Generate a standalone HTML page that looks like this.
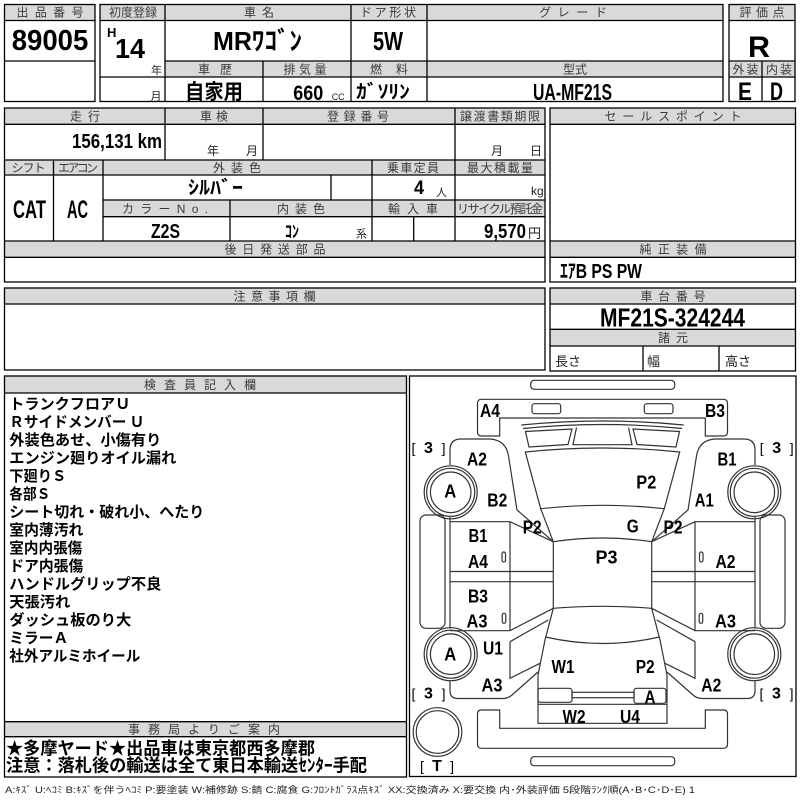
<!DOCTYPE html>
<html><head><meta charset="utf-8">
<style>
html,body{margin:0;padding:0;background:#fff;width:800px;height:800px;overflow:hidden;}
svg{display:block;}
.h{font-family:"Liberation Sans","Noto Sans CJK JP",sans-serif;font-size:12px;fill:#3a3a3a;text-anchor:middle;}
.b{font-family:"Liberation Sans","Noto Sans CJK JP",sans-serif;font-weight:bold;fill:#000;}
.t{font-family:"Liberation Sans","Noto Sans CJK JP",sans-serif;fill:#222;}
.j{font-family:"Noto Sans CJK JP",sans-serif;font-weight:bold;fill:#000;}
.g{fill:#d9d9d9;stroke:none;}
.ln line,.ln rect{stroke:#000;stroke-width:1.3;fill:none;}
.c{stroke:#333;stroke-width:1.2;fill:none;}
.cl{font-family:"Liberation Sans",sans-serif;font-weight:bold;font-size:18px;fill:#000;text-anchor:middle;}
.br{font-family:"Liberation Sans",sans-serif;font-size:14px;fill:#000;text-anchor:middle;}
</style></head>
<body>
<svg width="800" height="800" viewBox="0 0 800 800" xmlns="http://www.w3.org/2000/svg">
<!-- gray header fills -->
<rect class="g" x="4.5" y="4.5" width="90.5" height="16"/>
<rect class="g" x="100" y="4.5" width="623" height="16"/>
<rect class="g" x="165" y="61" width="558" height="16"/>
<rect class="g" x="729" y="4.5" width="66" height="16"/>
<rect class="g" x="729" y="61" width="66" height="16"/>
<rect class="g" x="4.5" y="108" width="540.5" height="16.3"/>
<rect class="g" x="4.5" y="160" width="540.5" height="15"/>
<rect class="g" x="103" y="200" width="442" height="16.7"/>
<rect class="g" x="4.5" y="241" width="540.5" height="16.3"/>
<rect class="g" x="550" y="108" width="245.5" height="16.3"/>
<rect class="g" x="550" y="241" width="245.5" height="16.3"/>
<rect class="g" x="4.5" y="288" width="540.5" height="16"/>
<rect class="g" x="550" y="288" width="245.5" height="16"/>
<rect class="g" x="550" y="329.3" width="245.5" height="16.7"/>
<rect class="g" x="4.5" y="376" width="402" height="17"/>
<rect class="g" x="4.5" y="721.7" width="402" height="15"/>

<g class="ln">
<!-- box1 -->
<rect x="4.5" y="4.5" width="90.5" height="97"/>
<line x1="4.5" y1="20.5" x2="95" y2="20.5"/>
<line x1="4.5" y1="61" x2="95" y2="61"/>
<!-- box2 -->
<rect x="100" y="4.5" width="623" height="97"/>
<line x1="100" y1="20.5" x2="723" y2="20.5"/>
<line x1="165" y1="61" x2="723" y2="61"/>
<line x1="100" y1="77" x2="723" y2="77"/>
<line x1="165" y1="4.5" x2="165" y2="101.5"/>
<line x1="263" y1="61" x2="263" y2="101.5"/>
<line x1="351" y1="4.5" x2="351" y2="101.5"/>
<line x1="427" y1="4.5" x2="427" y2="101.5"/>
<!-- box3 -->
<rect x="729" y="4.5" width="66" height="97"/>
<line x1="729" y1="20.5" x2="795" y2="20.5"/>
<line x1="729" y1="61" x2="795" y2="61"/>
<line x1="729" y1="77" x2="795" y2="77"/>
<line x1="762" y1="61" x2="762" y2="101.5"/>
<!-- section 2 left -->
<rect x="4.5" y="108" width="540.5" height="174"/>
<line x1="4.5" y1="124.3" x2="545" y2="124.3"/>
<line x1="4.5" y1="160" x2="545" y2="160"/>
<line x1="4.5" y1="175" x2="545" y2="175"/>
<line x1="103" y1="200" x2="545" y2="200"/>
<line x1="103" y1="216.7" x2="545" y2="216.7"/>
<line x1="4.5" y1="241" x2="545" y2="241"/>
<line x1="4.5" y1="257.3" x2="545" y2="257.3"/>
<line x1="165" y1="108" x2="165" y2="160"/>
<line x1="263" y1="108" x2="263" y2="160"/>
<line x1="455" y1="108" x2="455" y2="241"/>
<line x1="53.5" y1="160" x2="53.5" y2="241"/>
<line x1="103" y1="160" x2="103" y2="241"/>
<line x1="372" y1="160" x2="372" y2="241"/>
<line x1="331" y1="175" x2="331" y2="200"/>
<line x1="230" y1="200" x2="230" y2="241"/>
<line x1="413.7" y1="216.7" x2="413.7" y2="241"/>
<!-- section 2 right -->
<rect x="550" y="108" width="245.5" height="174"/>
<line x1="550" y1="124.3" x2="795.5" y2="124.3"/>
<line x1="550" y1="241" x2="795.5" y2="241"/>
<line x1="550" y1="257.3" x2="795.5" y2="257.3"/>
<!-- section 3 -->
<rect x="4.5" y="288" width="540.5" height="82"/>
<line x1="4.5" y1="304" x2="545" y2="304"/>
<rect x="550" y="288" width="245.5" height="83"/>
<line x1="550" y1="304" x2="795.5" y2="304"/>
<line x1="550" y1="329.3" x2="795.5" y2="329.3"/>
<line x1="550" y1="346" x2="795.5" y2="346"/>
<line x1="643" y1="346" x2="643" y2="371"/>
<line x1="719" y1="346" x2="719" y2="371"/>
<!-- section 4 -->
<rect x="4.5" y="376" width="402" height="401"/>
<line x1="4.5" y1="393" x2="406.5" y2="393"/>
<line x1="4.5" y1="721.7" x2="406.5" y2="721.7"/>
<line x1="4.5" y1="736.7" x2="406.5" y2="736.7"/>
<rect x="409.5" y="376" width="386.5" height="400.5"/>
</g>

<!-- headers -->
<text class="h" x="50" y="16.5" textLength="67" lengthAdjust="spacing">出品番号</text>
<text class="h" x="133" y="16.5" textLength="48" lengthAdjust="spacing">初度登録</text>
<text class="h" x="259" y="16.5" textLength="30" lengthAdjust="spacing">車名</text>
<text class="h" x="388" y="16.5" textLength="56" lengthAdjust="spacing">ドア形状</text>
<text class="h" x="573" y="16.5" textLength="68" lengthAdjust="spacing">グレード</text>
<text class="h" x="762" y="16.5" textLength="45" lengthAdjust="spacing">評価点</text>
<text class="h" x="215" y="73.3" textLength="34" lengthAdjust="spacing">車歴</text>
<text class="h" x="305" y="73.3" textLength="43" lengthAdjust="spacing">排気量</text>
<text class="h" x="389" y="73.3" textLength="38" lengthAdjust="spacing">燃料</text>
<text class="h" x="575" y="73.3" textLength="24" lengthAdjust="spacing">型式</text>
<text class="h" x="745.5" y="73.3" textLength="26" lengthAdjust="spacing">外装</text>
<text class="h" x="779" y="73.3" textLength="26" lengthAdjust="spacing">内装</text>
<text class="h" x="85" y="120.5" textLength="30" lengthAdjust="spacing">走行</text>
<text class="h" x="214" y="120.5" textLength="28" lengthAdjust="spacing">車検</text>
<text class="h" x="358" y="120.5" textLength="62" lengthAdjust="spacing">登録番号</text>
<text class="h" x="500" y="120.5" textLength="80" lengthAdjust="spacing">譲渡書類期限</text>
<text class="h" x="673" y="120.5" textLength="137" lengthAdjust="spacing">セールスポイント</text>
<text class="h" x="28.5" y="172" textLength="34" lengthAdjust="spacing">シフト</text>
<text class="h" x="78" y="172" textLength="40" lengthAdjust="spacing">エアコン</text>
<text class="h" x="237" y="172" textLength="48" lengthAdjust="spacing">外装色</text>
<text class="h" x="413" y="172" textLength="52" lengthAdjust="spacing">乗車定員</text>
<text class="h" x="500" y="172" textLength="66" lengthAdjust="spacing">最大積載量</text>
<text class="h" x="165" y="213" textLength="86" lengthAdjust="spacing">カラーNo.</text>
<text class="h" x="301" y="213" textLength="48" lengthAdjust="spacing">内装色</text>
<text class="h" x="413" y="213" textLength="50" lengthAdjust="spacing">輸入車</text>
<text class="h" x="500" y="213" textLength="86" lengthAdjust="spacing">リサイクル預託金</text>
<text class="h" x="275" y="253.5" textLength="101" lengthAdjust="spacing">後日発送部品</text>
<text class="h" x="673" y="253.5" textLength="67" lengthAdjust="spacing">純正装備</text>
<text class="h" x="274.5" y="300.5" textLength="82" lengthAdjust="spacing">注意事項欄</text>
<text class="h" x="673" y="300.5" textLength="65" lengthAdjust="spacing">車台番号</text>
<text class="h" x="673" y="342" textLength="30" lengthAdjust="spacing">諸元</text>
<text class="h" x="200" y="389" textLength="112" lengthAdjust="spacing">検査員記入欄</text>
<text class="h" x="204" y="733.5" textLength="152" lengthAdjust="spacing">事務局よりご案内</text>

<!-- values -->
<text class="b" x="11.7" y="50" font-size="29" textLength="76.6" lengthAdjust="spacingAndGlyphs">89005</text>
<text class="b" x="107" y="37" font-size="13">H</text>
<text class="b" x="115" y="58" font-size="28" textLength="30" lengthAdjust="spacingAndGlyphs">14</text>
<text class="t" x="151" y="74" font-size="11">年</text>
<text class="t" x="150.5" y="100" font-size="11">月</text>
<text class="b" x="213" y="50" font-size="26" textLength="89" lengthAdjust="spacingAndGlyphs">MRﾜｺﾞﾝ</text>
<text class="b" x="373" y="50" font-size="26" textLength="30" lengthAdjust="spacingAndGlyphs">5W</text>
<text class="b" x="748" y="57" font-size="30" textLength="22" lengthAdjust="spacingAndGlyphs">R</text>
<text class="j" x="185" y="99" font-size="21" textLength="58" lengthAdjust="spacingAndGlyphs">自家用</text>
<text class="b" x="293.3" y="100" font-size="21" textLength="30" lengthAdjust="spacingAndGlyphs">660</text>
<text class="t" x="331.7" y="100" font-size="9">CC</text>
<text class="b" x="356" y="98" font-size="19" textLength="54" lengthAdjust="spacingAndGlyphs">ｶﾞｿﾘﾝ</text>
<text class="b" x="533" y="100" font-size="23" textLength="79" lengthAdjust="spacingAndGlyphs">UA-MF21S</text>
<text class="b" x="738" y="100" font-size="25" textLength="14" lengthAdjust="spacingAndGlyphs">E</text>
<text class="b" x="770" y="100" font-size="25" textLength="13" lengthAdjust="spacingAndGlyphs">D</text>

<text class="b" x="72" y="148" font-size="20" textLength="90" lengthAdjust="spacingAndGlyphs">156,131 km</text>
<text class="t" x="207" y="155" font-size="12">年</text>
<text class="t" x="246" y="155" font-size="12">月</text>
<text class="t" x="491" y="155" font-size="12">月</text>
<text class="t" x="530" y="155" font-size="12">日</text>
<text class="b" x="13" y="218" font-size="25" textLength="33" lengthAdjust="spacingAndGlyphs">CAT</text>
<text class="b" x="67" y="218" font-size="25" textLength="21" lengthAdjust="spacingAndGlyphs">AC</text>
<text class="b" x="188" y="194" font-size="19" textLength="55" lengthAdjust="spacingAndGlyphs">ｼﾙﾊﾞｰ</text>
<text class="b" x="414" y="194" font-size="19" textLength="10" lengthAdjust="spacingAndGlyphs">4</text>
<text class="t" x="436" y="196" font-size="11">人</text>
<text class="t" x="531" y="195" font-size="12">kg</text>
<text class="b" x="151" y="238" font-size="20" textLength="29" lengthAdjust="spacingAndGlyphs">Z2S</text>
<text class="b" x="285" y="237.5" font-size="17" textLength="14" lengthAdjust="spacingAndGlyphs">ｺﾝ</text>
<text class="t" x="356" y="237.5" font-size="11">系</text>
<text class="b" x="484" y="238" font-size="20" textLength="42" lengthAdjust="spacingAndGlyphs">9,570</text>
<text class="t" x="528" y="238" font-size="13">円</text>
<text class="b" x="560" y="278" font-size="20" textLength="82" lengthAdjust="spacingAndGlyphs">ｴｱB PS PW</text>
<text class="b" x="600" y="326.5" font-size="26" textLength="145" lengthAdjust="spacingAndGlyphs">MF21S-324244</text>
<text class="t" x="555" y="366" font-size="13">長さ</text>
<text class="t" x="647" y="366" font-size="13">幅</text>
<text class="t" x="725" y="366" font-size="13">高さ</text>

<!-- inspector notes -->
<g class="j" font-size="15">
<text x="9.3" y="409" textLength="121" lengthAdjust="spacingAndGlyphs">トランクフロアＵ</text>
<text x="9.3" y="427" textLength="135" lengthAdjust="spacingAndGlyphs">Ｒサイドメンバー Ｕ</text>
<text x="9.3" y="445" textLength="152" lengthAdjust="spacingAndGlyphs">外装色あせ、小傷有り</text>
<text x="9.3" y="463" textLength="167" lengthAdjust="spacingAndGlyphs">エンジン廻りオイル漏れ</text>
<text x="9.3" y="481" textLength="57" lengthAdjust="spacingAndGlyphs">下廻りＳ</text>
<text x="9.3" y="499" textLength="41" lengthAdjust="spacingAndGlyphs">各部Ｓ</text>
<text x="9.3" y="517" textLength="195" lengthAdjust="spacingAndGlyphs">シート切れ・破れ小、へたり</text>
<text x="9.3" y="535" textLength="74" lengthAdjust="spacingAndGlyphs">室内薄汚れ</text>
<text x="9.3" y="553" textLength="73" lengthAdjust="spacingAndGlyphs">室内内張傷</text>
<text x="9.3" y="571" textLength="74" lengthAdjust="spacingAndGlyphs">ドア内張傷</text>
<text x="9.3" y="589" textLength="152" lengthAdjust="spacingAndGlyphs">ハンドルグリップ不良</text>
<text x="9.3" y="607" textLength="61" lengthAdjust="spacingAndGlyphs">天張汚れ</text>
<text x="9.3" y="625" textLength="122" lengthAdjust="spacingAndGlyphs">ダッシュ板のり大</text>
<text x="9.3" y="643" textLength="59" lengthAdjust="spacingAndGlyphs">ミラーＡ</text>
<text x="9.3" y="661" textLength="131" lengthAdjust="spacingAndGlyphs">社外アルミホイール</text>
</g>
<g class="j" font-size="17.5">
<text x="6" y="754.3" textLength="309" lengthAdjust="spacingAndGlyphs">★多摩ヤード★出品車は東京都西多摩郡</text>
<text x="6" y="771.5" textLength="361" lengthAdjust="spacingAndGlyphs">注意：落札後の輸送は全て東日本輸送ｾﾝﾀｰ手配</text>
</g>

<!-- footer -->
<text class="t" x="5" y="793" font-size="9" fill="#444" textLength="690" lengthAdjust="spacingAndGlyphs">A:ｷｽﾞ U:ﾍｺﾐ B:ｷｽﾞを伴うﾍｺﾐ P:要塗装 W:補修跡 S:錆 C:腐食 G:ﾌﾛﾝﾄｶﾞﾗｽ点ｷｽﾞ XX:交換済み X:要交換  内･外装評価  5段階ﾗﾝｸ順(A･B･C･D･E) 1</text>

<!-- car diagram -->
<g class="c">
<!-- center parts -->
<rect x="530.7" y="380.3" width="144" height="9" rx="3.5"/>
<path d="M499.7,436 L481.5,436 Q477.5,436 477.5,432 L477.5,403.5 Q477.5,399.3 481.5,399.3 L723.5,399.3 Q727.5,399.3 727.5,403.5 L727.5,432 Q727.5,436 723.5,436 L705.3,436 L705.3,418 L499.7,418 Z"/>
<rect x="532" y="403.7" width="28.7" height="10" rx="2.5"/>
<rect x="644.3" y="403.7" width="28.7" height="10" rx="2.5"/>
<path d="M521.3,425 Q602.5,417 683.7,425"/>
<path d="M523,428.5 Q602.5,420.5 682,428.5"/>
<path d="M525.5,431.5 L572,429 L568,444.5 L529,447 Z"/>
<path d="M679.5,431.5 L633,429 L637,444.5 L676,447 Z"/>
<path d="M576.5,427.5 L573,444.7 L632,444.7 L628.5,427.5"/>
<path d="M525.3,452 Q602.5,444 679.7,452 L664.3,508.7 Q602.5,501.9 540.7,508.7 Z"/>
<path d="M540.7,508.7 L553.3,541.7 M664.3,508.7 L651.7,541.7"/>
<path d="M553.3,541.7 Q602.5,534.3 651.7,541.7"/>
<path d="M553.3,541.7 L553.3,608.3 M651.7,541.7 L651.7,608.3"/>
<path d="M553.3,608.3 Q602.5,604.3 651.7,608.3"/>
<path d="M553.3,608.3 L545,640 L538,675 L538,723.3 L667,723.3 L667,675 L660,640 L651.7,608.3"/>
<path d="M545.5,637 Q602.5,650 659.5,637"/>
<line x1="538" y1="704.3" x2="667" y2="704.3"/>
<rect x="538" y="688.3" width="34" height="14" rx="2.5"/>
<rect x="634" y="688.3" width="32" height="15" rx="2.5"/>
<rect x="572" y="692.3" width="62" height="5.4"/>
<path d="M499.7,710 L499.7,728.3 L705.3,728.3 L705.3,710 L723.5,710 Q727.5,710 727.5,714 L727.5,744.3 Q727.5,748.3 723.5,748.3 L481.5,748.3 Q477.5,748.3 477.5,744.3 L477.5,714 Q477.5,710 481.5,710 Z"/>
<rect x="530.7" y="756.7" width="144" height="9" rx="3.5"/>
<!-- spare tire -->
<circle cx="437.5" cy="732" r="24.3"/>
<circle cx="437.5" cy="732" r="21.3"/>
<!-- left side -->
<g id="side">
<path d="M450,465 L450,450 Q450,439 461,439 L490,439 Q506,440 508.5,456 L517,510 L553.3,541.7"/>
<path d="M450,516 L450,628.5"/>
<path d="M450,521.7 L510,521.7 L553.3,541.7"/>
<path d="M510,521.7 L510,630.7"/>
<path d="M450,630.7 L510,630.7 L553.3,608.3"/>
<path d="M450,571.5 L553.3,571.5 M450,581.7 L553.3,581.7"/>
<path d="M510,641.7 L548.3,620 M510,641.7 L510,678.3 L540,663.3"/>
<path d="M450,681 L450,691 Q450,698.5 458,698.5 L503,698.5 Q508,698.5 512,695 L538,672"/>
<circle cx="450.7" cy="492.3" r="26.5"/>
<circle cx="450.7" cy="492.3" r="24"/>
<circle cx="450.7" cy="492.3" r="20.3"/>
<circle cx="450.7" cy="654.2" r="26.5"/>
<circle cx="450.7" cy="654.2" r="24"/>
<circle cx="450.7" cy="654.2" r="20.3"/>
<rect x="420" y="515" width="25" height="113.3" rx="6"/>
<rect x="502" y="552" width="3.5" height="10" rx="1.75"/>
<rect x="502.3" y="613.3" width="3.5" height="10" rx="1.75"/>
</g>
<g transform="translate(1205,0) scale(-1,1)">
<path d="M450,465 L450,450 Q450,439 461,439 L490,439 Q506,440 508.5,456 L517,510 L553.3,541.7"/>
<path d="M450,516 L450,628.5"/>
<path d="M450,521.7 L510,521.7 L553.3,541.7"/>
<path d="M510,521.7 L510,630.7"/>
<path d="M450,630.7 L510,630.7 L553.3,608.3"/>
<path d="M450,571.5 L553.3,571.5 M450,581.7 L553.3,581.7"/>
<path d="M510,641.7 L548.3,620 M510,641.7 L510,678.3 L540,663.3"/>
<path d="M450,681 L450,691 Q450,698.5 458,698.5 L503,698.5 Q508,698.5 512,695 L538,672"/>
<circle cx="450.7" cy="492.3" r="26.5"/>
<circle cx="450.7" cy="492.3" r="24"/>
<circle cx="450.7" cy="492.3" r="20.3"/>
<circle cx="450.7" cy="654.2" r="26.5"/>
<circle cx="450.7" cy="654.2" r="24"/>
<circle cx="450.7" cy="654.2" r="20.3"/>
<rect x="420" y="515" width="25" height="113.3" rx="6"/>
<rect x="502" y="552" width="3.5" height="10" rx="1.75"/>
<rect x="502.3" y="613.3" width="3.5" height="10" rx="1.75"/>
</g>
</g>

<!-- car labels -->
<g class="cl">
<text x="490" y="417" textLength="20" lengthAdjust="spacingAndGlyphs">A4</text>
<text x="715" y="417" textLength="20" lengthAdjust="spacingAndGlyphs">B3</text>
<text x="477" y="465.5" textLength="20" lengthAdjust="spacingAndGlyphs">A2</text>
<text x="727" y="465.5" textLength="19" lengthAdjust="spacingAndGlyphs">B1</text>
<text x="450.3" y="497.5" textLength="12" lengthAdjust="spacingAndGlyphs">A</text>
<text x="497.3" y="506.5" textLength="20" lengthAdjust="spacingAndGlyphs">B2</text>
<text x="646.3" y="488.5" textLength="20" lengthAdjust="spacingAndGlyphs">P2</text>
<text x="704.3" y="506.5" textLength="19" lengthAdjust="spacingAndGlyphs">A1</text>
<text x="532.2" y="533.5" textLength="19" lengthAdjust="spacingAndGlyphs">P2</text>
<text x="632.8" y="532.5" textLength="12" lengthAdjust="spacingAndGlyphs">G</text>
<text x="673" y="533.5" textLength="19" lengthAdjust="spacingAndGlyphs">P2</text>
<text x="478" y="542" textLength="19" lengthAdjust="spacingAndGlyphs">B1</text>
<text x="478" y="568" textLength="20" lengthAdjust="spacingAndGlyphs">A4</text>
<text x="606.5" y="563.5" textLength="22" lengthAdjust="spacingAndGlyphs">P3</text>
<text x="725.5" y="568" textLength="20" lengthAdjust="spacingAndGlyphs">A2</text>
<text x="478" y="602.5" textLength="20" lengthAdjust="spacingAndGlyphs">B3</text>
<text x="477" y="627.5" textLength="21" lengthAdjust="spacingAndGlyphs">A3</text>
<text x="725.5" y="627.5" textLength="21" lengthAdjust="spacingAndGlyphs">A3</text>
<text x="493" y="654.5" textLength="20" lengthAdjust="spacingAndGlyphs">U1</text>
<text x="450.2" y="660.5" textLength="12" lengthAdjust="spacingAndGlyphs">A</text>
<text x="563" y="673" textLength="23" lengthAdjust="spacingAndGlyphs">W1</text>
<text x="645.2" y="673" textLength="19" lengthAdjust="spacingAndGlyphs">P2</text>
<text x="492" y="691.5" textLength="21" lengthAdjust="spacingAndGlyphs">A3</text>
<text x="711.3" y="691.5" textLength="20" lengthAdjust="spacingAndGlyphs">A2</text>
<text x="650" y="703.5" textLength="11" lengthAdjust="spacingAndGlyphs">A</text>
<text x="574" y="723" textLength="23" lengthAdjust="spacingAndGlyphs">W2</text>
<text x="630" y="723" textLength="20" lengthAdjust="spacingAndGlyphs">U4</text>
</g>
<g class="br">
<text x="428.5" y="453" textLength="34" lengthAdjust="spacing">[ <tspan font-weight="bold" font-size="16">3</tspan> ]</text>
<text x="776.7" y="453" textLength="34" lengthAdjust="spacing">[ <tspan font-weight="bold" font-size="16">3</tspan> ]</text>
<text x="428.5" y="698.5" textLength="34" lengthAdjust="spacing">[ <tspan font-weight="bold" font-size="16">3</tspan> ]</text>
<text x="776.5" y="698.5" textLength="34" lengthAdjust="spacing">[ <tspan font-weight="bold" font-size="16">3</tspan> ]</text>
<text x="437" y="771" textLength="34" lengthAdjust="spacing">[ <tspan font-weight="bold" font-size="16">T</tspan> ]</text>
</g>
</svg>
</body></html>
